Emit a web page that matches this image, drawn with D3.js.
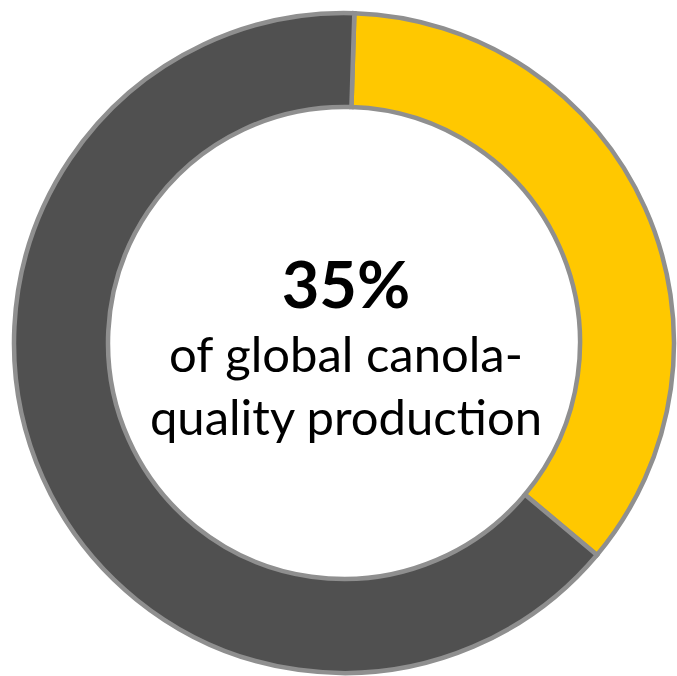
<!DOCTYPE html>
<html>
<head>
<meta charset="utf-8">
<script src="https://cdn.jsdelivr.net/npm/d3@7"></script>
<style>
  html, body { margin: 0; padding: 0; background: #fff; overflow: hidden; }
  svg { display: block; }
</style>
</head>
<body>
<div class="chart"></div>
<script>
'use strict'
// share of global canola-quality production
var categories = ['Canada', 'Rest of world']
var shares = [35.6, 64.4]
var colors = ['#ffc800', '#505050']
var headline = '35%'
var caption = ['of global canola-', 'quality production']

var width = 677
var height = 676
var cx = 344
var cy = 343
var outer = 330
var inner = 236
var startAngle = 1.8 * Math.PI / 180

var svg = d3.select('.chart').append('svg')
  .attr('width', width)
  .attr('height', height)

var g = svg.append('g')
  .attr('transform', 'translate(' + cx + ',' + cy + ')')

var pie = d3.pie()
  .sort(null)
  .startAngle(startAngle)
  .endAngle(startAngle + 2 * Math.PI)

var arc = d3.arc()
  .innerRadius(inner)
  .outerRadius(outer)

var color = d3.scaleOrdinal().domain(categories).range(colors)

g.selectAll('path')
  .data(pie(shares))
  .enter().append('path')
  .attr('d', arc)
  .attr('fill', function (d, i) { return color(categories[i]) })
  .attr('stroke', '#8f8f8f')
  .attr('stroke-width', 4.5)
  .attr('stroke-linejoin', 'miter')

// centre label
g.append('text')
  .attr('x', 2)
  .attr('y', -35)
  .attr('text-anchor', 'middle')
  .style('font-family', 'Lato, sans-serif')
  .style('font-weight', 'bold')
  .style('font-size', '65px')
  .attr('fill', '#000')
  .text(headline)

g.selectAll('.caption')
  .data(caption)
  .enter().append('text')
  .attr('class', 'caption')
  .attr('x', 2)
  .attr('y', function (d, i) { return 29 + i * 63 })
  .attr('text-anchor', 'middle')
  .style('font-family', 'Lato, sans-serif')
  .style('font-size', '49px')
  .attr('fill', '#000')
  .text(function (d) { return d })
</script>
</body>
</html>
